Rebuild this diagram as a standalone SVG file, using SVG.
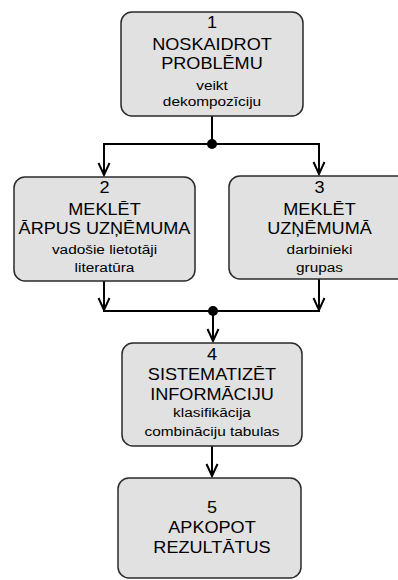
<svg xmlns="http://www.w3.org/2000/svg" width="398" height="580" viewBox="0 0 398 580">
<style>
.box{fill:#e1e1e1;stroke:#2a2a2a;stroke-width:1.5}
.big{font-family:"Liberation Sans",Arial,sans-serif;font-size:16.6px;fill:#000;text-anchor:middle}
.small{font-family:"Liberation Sans",Arial,sans-serif;font-size:13.5px;fill:#000;text-anchor:middle}
.ln{stroke:#000;stroke-width:2;fill:none}
</style>
<defs>
<marker id="arr" viewBox="-13 -7 15 14" markerWidth="15" markerHeight="14" refX="0" refY="0" orient="auto" markerUnits="userSpaceOnUse">
<path d="M-12,-5.5 L0,0 L-12,5.5" fill="none" stroke="#000" stroke-width="2"/>
</marker>
</defs>
<rect width="398" height="580" fill="#fff"/>
<g id="connectors">
<line class="ln" x1="212" y1="116" x2="212" y2="144"/>
<line class="ln" x1="103" y1="144" x2="320" y2="144"/>
<line class="ln" x1="104" y1="144" x2="104" y2="175" marker-end="url(#arr)"/>
<line class="ln" x1="319" y1="144" x2="319" y2="174" marker-end="url(#arr)"/>
<circle cx="212" cy="144" r="5" fill="#000"/>
<line class="ln" x1="104" y1="281" x2="104" y2="310" marker-end="url(#arr)"/>
<line class="ln" x1="319" y1="279" x2="319" y2="310" marker-end="url(#arr)"/>
<line class="ln" x1="103" y1="311" x2="320" y2="311"/>
<circle cx="213" cy="311" r="5" fill="#000"/>
<line class="ln" x1="213" y1="311" x2="213" y2="341" marker-end="url(#arr)"/>
<line class="ln" x1="212" y1="446" x2="212" y2="476" marker-end="url(#arr)"/>
</g>
<g id="n1">
<rect class="box" x="121" y="12" width="182" height="104" rx="11"/>
<text class="big" transform="translate(212,28) scale(1.09,1)">1</text>
<text class="big" transform="translate(212,50) scale(1.09,1)">NOSKAIDROT</text>
<text class="big" transform="translate(212,69) scale(1.09,1)">PROBLĒMU</text>
<text class="small" transform="translate(212,90) scale(1.14,1)">veikt</text>
<text class="small" transform="translate(212,106) scale(1.14,1)">dekompozīciju</text>
</g>
<g id="n2">
<rect class="box" x="14" y="177" width="181" height="104" rx="11"/>
<text class="big" transform="translate(104.5,193) scale(1.09,1)">2</text>
<text class="big" transform="translate(104.5,215) scale(1.09,1)">MEKLĒT</text>
<text class="big" transform="translate(104.5,234) scale(1.09,1)">ĀRPUS UZŅĒMUMA</text>
<text class="small" transform="translate(104.5,254) scale(1.14,1)">vadošie lietotāji</text>
<text class="small" transform="translate(104.5,272) scale(1.14,1)">literatūra</text>
</g>
<g id="n3">
<rect class="box" x="229" y="176" width="181" height="103" rx="11"/>
<text class="big" transform="translate(319.5,193) scale(1.09,1)">3</text>
<text class="big" transform="translate(319.5,215) scale(1.09,1)">MEKLĒT</text>
<text class="big" transform="translate(319.5,234) scale(1.09,1)">UZŅĒMUMĀ</text>
<text class="small" transform="translate(319.5,254) scale(1.14,1)">darbinieki</text>
<text class="small" transform="translate(319.5,272) scale(1.14,1)">grupas</text>
</g>
<g id="n4">
<rect class="box" x="122" y="343" width="180" height="103" rx="11"/>
<text class="big" transform="translate(212,360) scale(1.09,1)">4</text>
<text class="big" transform="translate(212,380) scale(1.09,1)">SISTEMATIZĒT</text>
<text class="big" transform="translate(212,400) scale(1.09,1)">INFORMĀCIJU</text>
<text class="small" transform="translate(212,417) scale(1.14,1)">klasifikācija</text>
<text class="small" transform="translate(212,436) scale(1.14,1)">combināciju tabulas</text>
</g>
<g id="n5">
<rect class="box" x="118" y="478" width="183" height="100" rx="11"/>
<text class="big" transform="translate(212,513) scale(1.09,1)">5</text>
<text class="big" transform="translate(212,533) scale(1.09,1)">APKOPOT</text>
<text class="big" transform="translate(212,553) scale(1.09,1)">REZULTĀTUS</text>
</g>
</svg>
